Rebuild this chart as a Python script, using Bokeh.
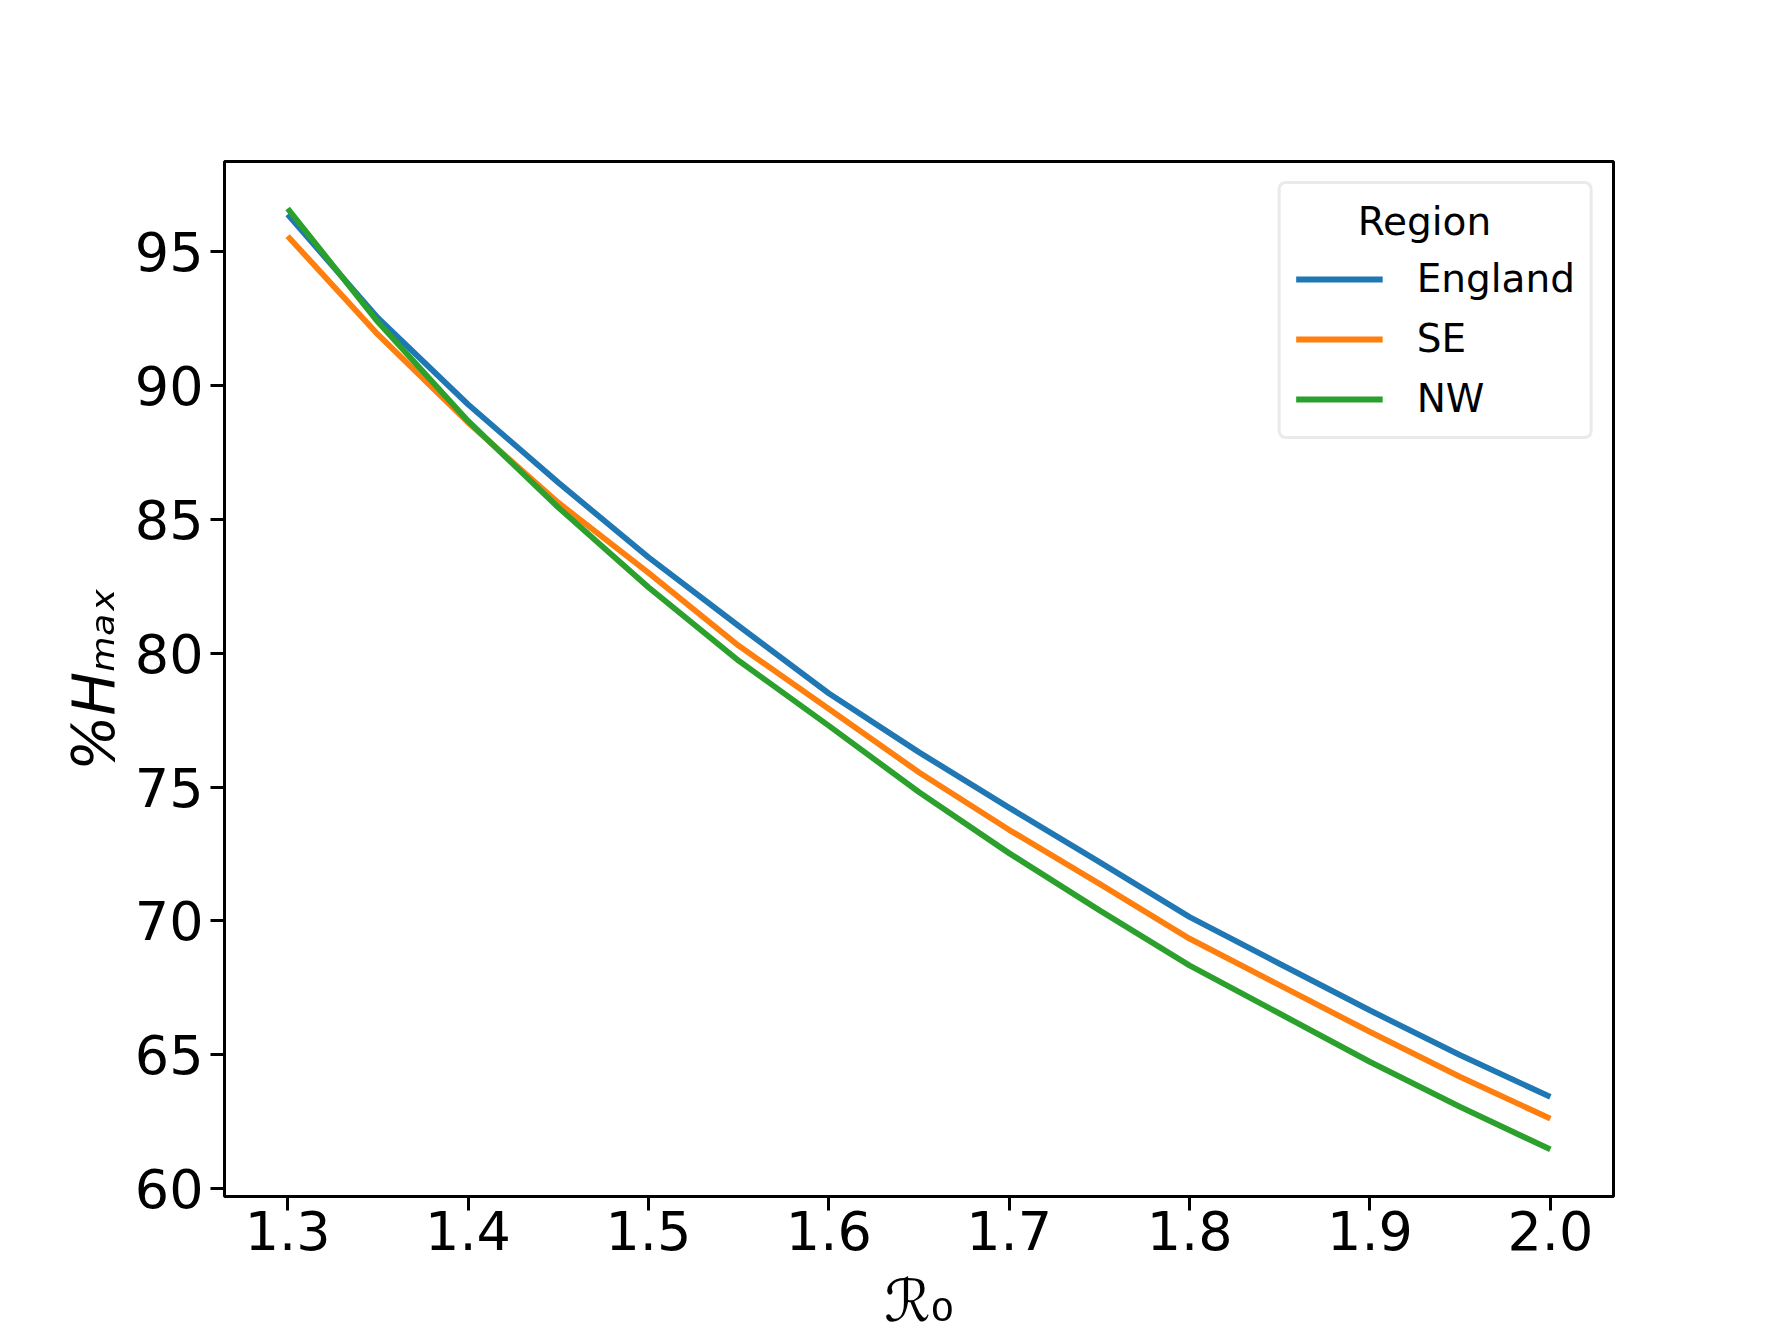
from bokeh.plotting import figure
from bokeh.models import Range1d, FixedTicker, Legend, LegendItem
from bokeh.embed import file_html
from bokeh.resources import INLINE

# ---- data ----
r0 = [1.30, 1.35, 1.40, 1.45, 1.50, 1.55, 1.60, 1.65, 1.70, 1.75, 1.80, 1.85, 1.90, 1.95, 2.00]
england = [96.38, 92.52, 89.29, 86.37, 83.58, 81.02, 78.50, 76.30, 74.23, 72.20, 70.15, 68.40, 66.66, 64.99, 63.43]
se = [95.57, 91.90, 88.61, 85.62, 83.00, 80.28, 77.92, 75.55, 73.40, 71.39, 69.34, 67.60, 65.86, 64.18, 62.62]
nw = [96.60, 92.37, 88.67, 85.44, 82.46, 79.72, 77.29, 74.81, 72.53, 70.40, 68.34, 66.54, 64.74, 63.06, 61.47]

series_names = ["England", "SE", "NW"]
series_values = [england, se, nw]
series_colors = ["#1f77b4", "#ff7f0e", "#2ca02c"]

x_ticks = [1.3, 1.4, 1.5, 1.6, 1.7, 1.8, 1.9, 2.0]
x_tick_labels = ["1.3", "1.4", "1.5", "1.6", "1.7", "1.8", "1.9", "2.0"]
y_ticks = [60, 65, 70, 75, 80, 85, 90, 95]
y_tick_labels = ["60", "65", "70", "75", "80", "85", "90", "95"]

legend_title = "Region"
x_label = "\u211b\u2080"
y_label = "%H\u2098\u2090\u2093"

# ---- ranges with 5% margins like matplotlib ----
xmin, xmax = min(r0), max(r0)
xpad = 0.05 * (xmax - xmin)
all_y = england + se + nw
ymin, ymax = min(all_y), max(all_y)
ypad = 0.05 * (ymax - ymin)
x_start, x_end = xmin - xpad, xmax + xpad
y_start, y_end = ymin - ypad, ymax + ypad

FONT = "DejaVu Sans"

p = figure(
    output_backend="svg",
    toolbar_location=None,
    frame_width=1389,
    frame_height=1035,
    min_border_left=224,
    min_border_right=163,
    min_border_top=161,
    min_border_bottom=132,
    x_range=Range1d(x_start, x_end),
    y_range=Range1d(y_start, y_end),
    background_fill_color="white",
    border_fill_color="white",
)

p.xgrid.visible = False
p.ygrid.visible = False
p.outline_line_color = "black"
p.outline_line_width = 3
p.outline_line_alpha = 1.0

for ax in (p.xaxis[0], p.yaxis[0]):
    ax.axis_line_color = None
    ax.major_tick_line_color = "black"
    ax.major_tick_line_width = 3
    ax.major_tick_out = 14
    ax.major_tick_in = 0
    ax.minor_tick_line_color = None
    ax.major_label_text_font = FONT
    ax.major_label_text_font_size = "54px"
    ax.major_label_text_color = "black"
    ax.axis_label_text_font = FONT
    ax.axis_label_text_color = "black"

p.xaxis[0].ticker = FixedTicker(ticks=x_ticks)
p.xaxis[0].major_label_overrides = {t: l for t, l in zip(x_ticks, x_tick_labels)}
p.yaxis[0].ticker = FixedTicker(ticks=y_ticks)
p.yaxis[0].major_label_overrides = {t: l for t, l in zip(y_ticks, y_tick_labels)}

p.xaxis[0].major_label_standoff = 0
p.yaxis[0].major_label_standoff = 7

p.xaxis[0].axis_label = x_label
p.xaxis[0].axis_label_text_font_size = "58px"
p.xaxis[0].axis_label_text_font_style = "normal"
p.xaxis[0].axis_label_standoff = 14

p.yaxis[0].axis_label = y_label
p.yaxis[0].axis_label_text_font_size = "58px"
p.yaxis[0].axis_label_text_font_style = "italic"
p.yaxis[0].axis_label_standoff = 4

items = []
for name, vals, col in zip(series_names, series_values, series_colors):
    r = p.line(r0, vals, line_color=col, line_width=5.8)
    items.append(LegendItem(label=name, renderers=[r]))

legend = Legend(
    items=items,
    location="top_right",
    title="\u00a0" * 5 + legend_title,
    title_text_font=FONT,
    title_text_font_size="39px",
    title_text_font_style="normal",
    title_text_color="black",
    title_standoff=12,
    label_text_font=FONT,
    label_text_font_size="39px",
    label_text_color="black",
    glyph_width=87,
    glyph_height=20,
    label_standoff=34,
    spacing=15,
    padding=15,
    margin=20,
    border_line_color="#d5d5d5",
    border_line_width=3,
    background_fill_color="white",
    background_fill_alpha=0.8,
)
if "border_radius" in legend.properties():
    legend.border_radius = 8
p.add_layout(legend)

open("out.html", "w").write(file_html(p, INLINE))
